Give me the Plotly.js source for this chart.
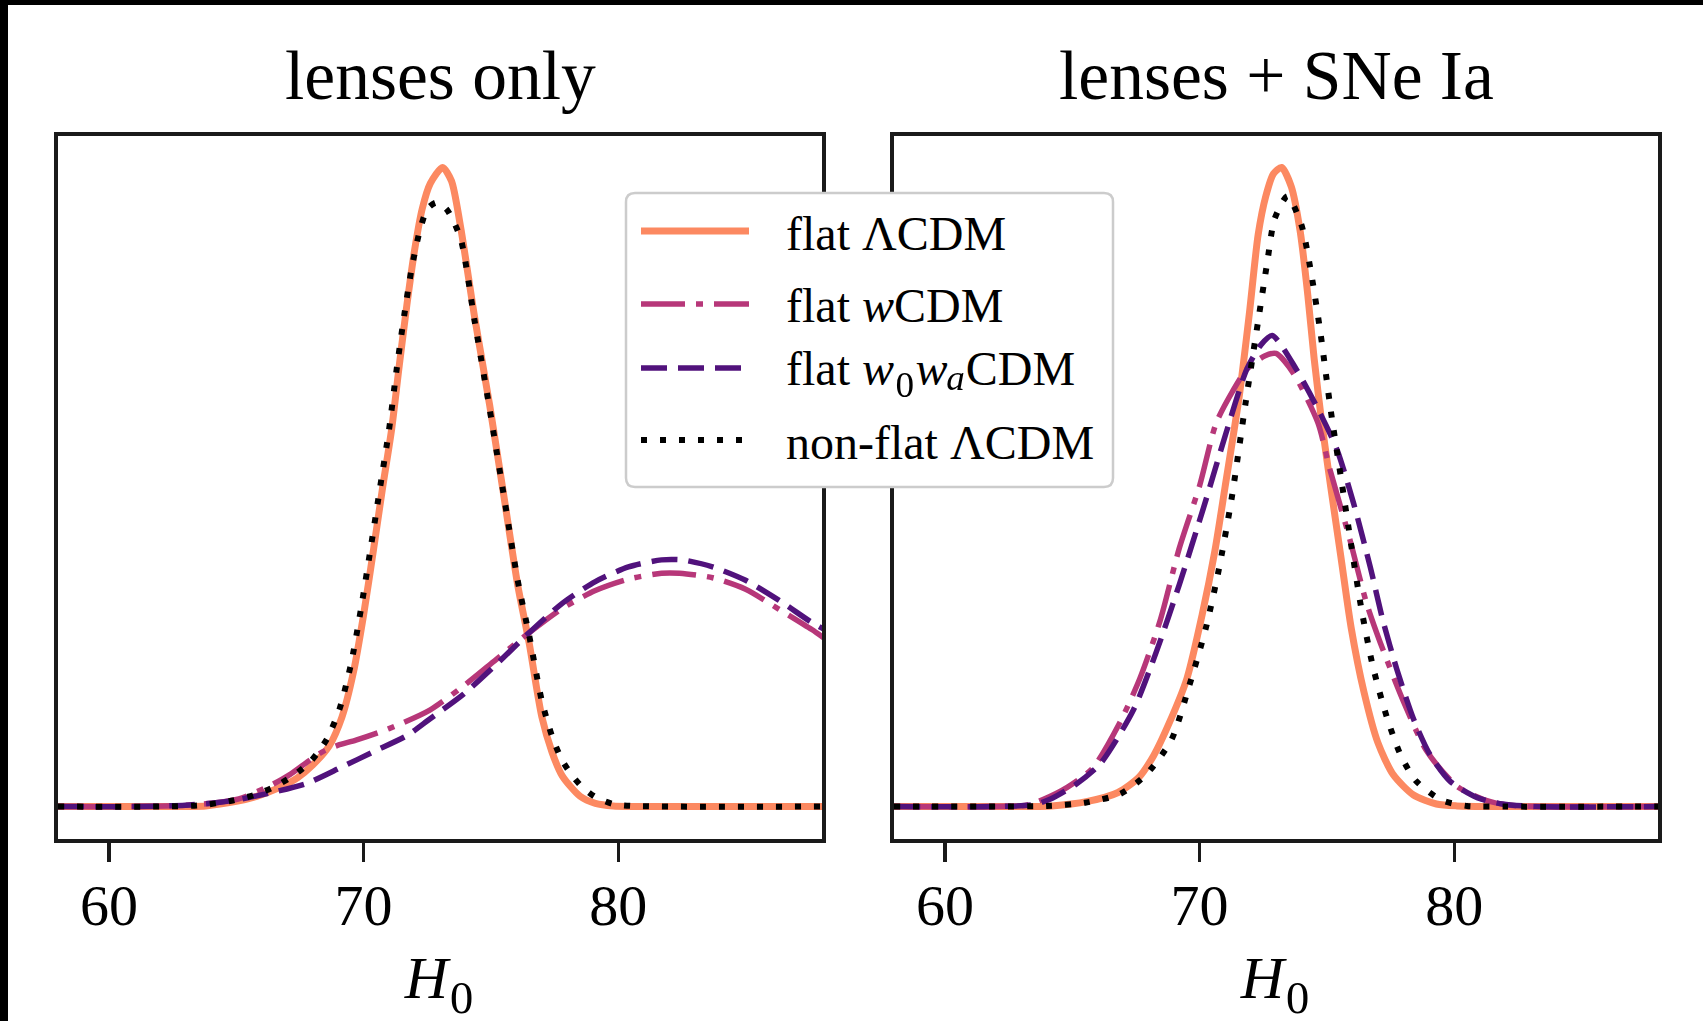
<!DOCTYPE html>
<html>
<head>
<meta charset="utf-8">
<script src="https://cdn.plot.ly/plotly-3.0.1.min.js"></script>
<style>
html, body { margin: 0; padding: 0; background: #ffffff; }
#chart { width: 1703px; height: 1021px; }
</style>
</head>
<body>
<div id="chart"></div>
<script>
// ---------------- DATA (normalised posterior of H0) ----------------
const panelTitles = ['lenses only', 'lenses + SNe Ia'];
const modelNames = ['flat ΛCDM', 'flat <i>w</i>CDM', 'flat <i>w</i><span style="font-size:62px">₀</span><i>w</i><span style="font-size:62px"><i>ₐ</i></span>CDM', 'non-flat ΛCDM'];
const axisTitle = '<i>H</i><span style="font-size:78px">₀</span>';
const tickValues = [60, 70, 80];
const tickLabels = ['60', '70', '80'];

// ---- lenses only ----
const lensH0_flatLCDM = [58, 62, 63.8, 65.0, 65.8, 66.6, 67.4, 68.0, 68.65, 69.15, 69.6, 70.0, 70.4, 70.75, 71.1, 71.4, 71.7, 72.0, 72.3, 72.62, 73.1, 73.45, 73.8, 74.35, 74.95, 75.5, 76.05, 76.5, 77.0, 77.4, 77.8, 78.5, 79.1, 79.8, 82, 88];
const lensP_flatLCDM  = [0, 0, 0.001, 0.008, 0.016, 0.028, 0.045, 0.065, 0.095, 0.14, 0.21, 0.3, 0.405, 0.5, 0.59, 0.69, 0.785, 0.87, 0.935, 0.975, 1.0, 0.979, 0.909, 0.768, 0.628, 0.488, 0.347, 0.256, 0.14, 0.085, 0.048, 0.016, 0.005, 0.001, 0, 0];

const lensH0_wCDM = [58, 61, 63, 64.2, 65.1, 66.3, 67.1, 67.8, 68.4, 69.0, 69.7, 71.0, 72.6, 73.9, 75.2, 76.5, 77.8, 79.1, 80.4, 81.7, 82.4, 83.7, 85.0, 86.3, 87.6, 88.1];
const lensP_wCDM  = [0, 0, 0.002, 0.006, 0.012, 0.032, 0.05, 0.07, 0.086, 0.096, 0.104, 0.122, 0.151, 0.188, 0.23, 0.272, 0.31, 0.338, 0.356, 0.365, 0.365, 0.358, 0.34, 0.309, 0.277, 0.263];

const lensH0_w0waCDM = [58, 61, 63, 64.2, 65.1, 66.4, 67.75, 69.1, 70.4, 71.7, 72.6, 73.9, 75.2, 76.5, 77.8, 79.1, 80.4, 81.7, 82.5, 83.7, 85.0, 86.3, 87.6, 88.1];
const lensP_w0waCDM  = [0, 0, 0.002, 0.006, 0.011, 0.022, 0.036, 0.061, 0.086, 0.111, 0.137, 0.175, 0.222, 0.272, 0.318, 0.352, 0.375, 0.386, 0.386, 0.375, 0.354, 0.323, 0.288, 0.277];

const lensH0_nonflatLCDM = [58, 62, 63.6, 64.8, 65.7, 66.5, 67.3, 67.95, 68.55, 69.05, 69.5, 69.9, 70.3, 70.65, 71.0, 71.3, 71.6, 71.9, 72.2, 72.5, 72.85, 73.25, 73.8, 74.35, 74.95, 75.5, 76.05, 76.5, 77.0, 77.4, 77.8, 78.2, 78.6, 79.1, 79.8, 80.5, 88];
const lensP_nonflatLCDM  = [0, 0, 0.002, 0.009, 0.018, 0.031, 0.05, 0.072, 0.105, 0.152, 0.222, 0.31, 0.41, 0.5, 0.59, 0.685, 0.77, 0.845, 0.9, 0.935, 0.945, 0.935, 0.89, 0.762, 0.622, 0.488, 0.354, 0.268, 0.165, 0.11, 0.072, 0.048, 0.03, 0.015, 0.004, 0.001, 0];

// ---- lenses + SNe Ia ----
const snH0_flatLCDM = [58, 62, 64.2, 65.6, 66.8, 67.6, 68.2, 68.8, 69.5, 70.1, 70.6, 71.0, 71.55, 71.95, 72.3, 72.6, 72.9, 73.22, 73.6, 73.95, 74.25, 74.5, 74.8, 75.15, 75.55, 75.95, 76.45, 77.0, 77.6, 78.4, 79.3, 80.1, 82, 88];
const snP_flatLCDM  = [0, 0, 0.001, 0.008, 0.022, 0.045, 0.08, 0.13, 0.2, 0.3, 0.4, 0.5, 0.64, 0.77, 0.895, 0.955, 0.99, 1.0, 0.97, 0.9, 0.8, 0.7, 0.6, 0.5, 0.39, 0.28, 0.18, 0.1, 0.05, 0.018, 0.004, 0.001, 0, 0];

const snH0_wCDM = [58, 62, 63.2, 63.85, 64.8, 65.8, 66.85, 67.65, 68.45, 69.2, 70.0, 70.65, 71.3, 71.85, 72.55, 73.0, 73.7, 74.65, 75.1, 75.9, 76.55, 77.1, 78.0, 78.9, 80.1, 81.15, 82.2, 88];
const snP_wCDM  = [0, 0, 0.002, 0.011, 0.03, 0.06, 0.13, 0.2, 0.291, 0.404, 0.502, 0.6, 0.65, 0.684, 0.705, 0.709, 0.677, 0.6, 0.53, 0.418, 0.319, 0.256, 0.165, 0.088, 0.032, 0.011, 0.002, 0];

const snH0_w0waCDM = [58, 62, 63.5, 64.1, 65.15, 66.1, 67.4, 68.3, 69.2, 70.15, 71.05, 71.85, 72.4, 72.85, 73.8, 74.75, 75.4, 76.05, 76.7, 77.2, 77.75, 78.4, 79.05, 79.85, 80.9, 81.9, 83.2, 88];
const snP_w0waCDM  = [0, 0, 0.003, 0.011, 0.035, 0.067, 0.151, 0.242, 0.347, 0.467, 0.586, 0.684, 0.722, 0.737, 0.684, 0.614, 0.558, 0.474, 0.375, 0.291, 0.214, 0.137, 0.081, 0.039, 0.014, 0.004, 0, 0];

const snH0_nonflatLCDM = [58, 62, 64, 65.5, 66.9, 67.9, 68.9, 69.6, 70.25, 70.75, 71.25, 71.8, 72.3, 72.65, 72.95, 73.45, 74.0, 74.4, 74.75, 75.15, 75.55, 75.95, 76.35, 76.8, 77.35, 77.9, 78.5, 79.5, 80.5, 82, 88];
const snP_nonflatLCDM  = [0, 0, 0.001, 0.006, 0.02, 0.05, 0.105, 0.19, 0.28, 0.37, 0.48, 0.63, 0.76, 0.85, 0.92, 0.955, 0.91, 0.83, 0.74, 0.62, 0.515, 0.41, 0.31, 0.22, 0.14, 0.08, 0.04, 0.01, 0.001, 0, 0];

// ---------------- STYLE / LAYOUT ----------------
const W = 1703, H = 1021;
const X = px => px / W;            // pixel -> paper x
const Y = py => 1 - py / H;        // pixel -> paper y
const FONT = 'Liberation Serif, Times New Roman, serif';
const AXC = '#1a1a1a';

const styles = [
  {color: '#fc8961', width: 7,   dash: 'solid'},
  {color: '#b73779', width: 5.5, dash: '44px,11px,7px,11px'},
  {color: '#51127c', width: 5.5, dash: '26px,11px'},
  {color: '#000000', width: 6,   dash: '6px,13px'}
];

const lensSets = [[lensH0_flatLCDM, lensP_flatLCDM], [lensH0_wCDM, lensP_wCDM], [lensH0_w0waCDM, lensP_w0waCDM], [lensH0_nonflatLCDM, lensP_nonflatLCDM]];
const snSets = [[snH0_flatLCDM, snP_flatLCDM], [snH0_wCDM, snP_wCDM], [snH0_w0waCDM, snP_w0waCDM], [snH0_nonflatLCDM, snP_nonflatLCDM]];

const traces = [];
[[lensSets, 'x', 'y'], [snSets, 'x2', 'y2']].forEach(([sets, xa, ya]) => {
  sets.forEach((s, i) => {
    traces.push({
      type: 'scatter', mode: 'lines', x: s[0], y: s[1], xaxis: xa, yaxis: ya,
      name: modelNames[i], showlegend: false, hoverinfo: 'skip',
      line: {color: styles[i].color, width: styles[i].width, dash: styles[i].dash, shape: 'spline', smoothing: 0.7}
    });
  });
});

const box = {left1: 58, right1: 822, left2: 894, right2: 1658, top: 135.5, bottom: 838.5};

function xaxisDef(l, r, anchor) {
  return {
    domain: [X(l), X(r)], anchor: anchor, range: [58, 88],
    tickmode: 'array', tickvals: tickValues, ticktext: tickLabels,
    ticks: 'outside', ticklen: 19, tickwidth: 3.5, tickcolor: AXC,
    ticklabelstandoff: -6,
    tickfont: {family: FONT, size: 58, color: '#000'},
    showline: true, linewidth: 4, linecolor: AXC, mirror: true,
    showgrid: false, zeroline: false, fixedrange: true,
    title: {text: axisTitle, font: {family: FONT, size: 60, color: '#000'}, standoff: 20}
  };
}
function yaxisDef(anchor) {
  return {
    domain: [Y(box.bottom), Y(box.top)], anchor: anchor, range: [-0.05, 1.05],
    showticklabels: false, ticks: '', showline: true, linewidth: 4, linecolor: AXC, mirror: true,
    showgrid: false, zeroline: false, fixedrange: true
  };
}

// legend drawn as shapes + annotations
const leg = {x0: 626, x1: 1113, y0: 193, y1: 487, r: 9, lx0: 641, lx1: 749, tx: 784, rows: [231, 304, 368, 440], textShift: [2, 2, -4, 2]};
function roundRectPath(x0, y0, x1, y1, r) {
  return 'M' + X(x0 + r) + ',' + Y(y0) +
    ' L' + X(x1 - r) + ',' + Y(y0) + ' Q' + X(x1) + ',' + Y(y0) + ' ' + X(x1) + ',' + Y(y0 + r) +
    ' L' + X(x1) + ',' + Y(y1 - r) + ' Q' + X(x1) + ',' + Y(y1) + ' ' + X(x1 - r) + ',' + Y(y1) +
    ' L' + X(x0 + r) + ',' + Y(y1) + ' Q' + X(x0) + ',' + Y(y1) + ' ' + X(x0) + ',' + Y(y1 - r) +
    ' L' + X(x0) + ',' + Y(y0 + r) + ' Q' + X(x0) + ',' + Y(y0) + ' ' + X(x0 + r) + ',' + Y(y0) + ' Z';
}

const shapes = [
  {type: 'path', xref: 'paper', yref: 'paper', layer: 'above', path: roundRectPath(leg.x0, leg.y0, leg.x1, leg.y1, leg.r),
   fillcolor: '#ffffff', line: {color: '#cccccc', width: 2.5}},
  {type: 'rect', xref: 'paper', yref: 'paper', layer: 'above', x0: 0, x1: X(8), y0: 0, y1: 1, fillcolor: '#000', line: {width: 0}},
  {type: 'rect', xref: 'paper', yref: 'paper', layer: 'above', x0: 0, x1: 1, y0: Y(5), y1: 1, fillcolor: '#000', line: {width: 0}}
];
styles.forEach((s, i) => {
  shapes.push({type: 'line', xref: 'paper', yref: 'paper', layer: 'above',
    x0: X(leg.lx0), x1: X(leg.lx1), y0: Y(leg.rows[i]), y1: Y(leg.rows[i]),
    line: {color: s.color, width: s.width, dash: s.dash}});
});

const annotations = [
  {text: panelTitles[0], x: X((box.left1 + box.right1) / 2), y: Y(75), xref: 'paper', yref: 'paper', xanchor: 'center', yanchor: 'middle', showarrow: false, font: {family: FONT, size: 69.5, color: '#000'}},
  {text: panelTitles[1], x: X((box.left2 + box.right2) / 2), y: Y(75), xref: 'paper', yref: 'paper', xanchor: 'center', yanchor: 'middle', showarrow: false, font: {family: FONT, size: 69.5, color: '#000'}}
];
modelNames.forEach((n, i) => {
  annotations.push({text: n, x: X(leg.tx), y: Y(leg.rows[i] + leg.textShift[i]), xref: 'paper', yref: 'paper', xanchor: 'left', yanchor: 'middle',
    showarrow: false, font: {family: FONT, size: 48, color: '#000'}});
});

const layout = {
  width: W, height: H, autosize: false,
  margin: {l: 0, r: 0, t: 0, b: 0, pad: 0},
  paper_bgcolor: '#ffffff', plot_bgcolor: '#ffffff',
  showlegend: false,
  xaxis: xaxisDef(box.left1, box.right1, 'y'),
  yaxis: yaxisDef('x'),
  xaxis2: xaxisDef(box.left2, box.right2, 'y2'),
  yaxis2: yaxisDef('x2'),
  shapes: shapes,
  annotations: annotations
};

Plotly.newPlot('chart', traces, layout, {displayModeBar: false, staticPlot: true});
</script>
</body>
</html>
